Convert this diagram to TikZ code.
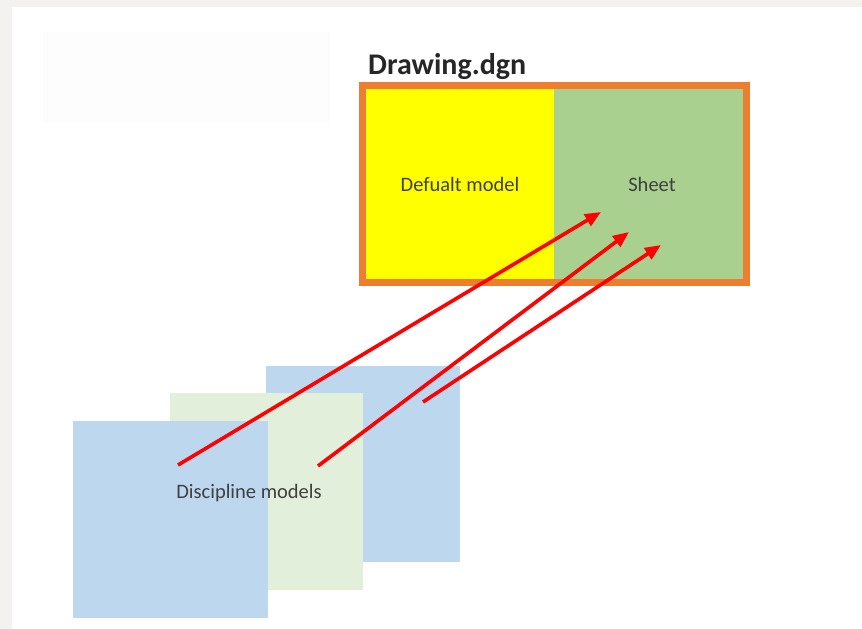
\documentclass[tikz,border=0pt]{standalone}
\usepackage{fontspec}
\setmainfont{Carlito}
\usetikzlibrary{arrows.meta}
\definecolor{pagegray}{HTML}{F3F2F1}
\definecolor{faint}{HTML}{FDFDFD}
\definecolor{frameorange}{HTML}{ED7D31}
\definecolor{pureyellow}{HTML}{FFFF00}
\definecolor{sheetgreen}{HTML}{A9D08E}
\definecolor{modelblue}{HTML}{BDD7EE}
\definecolor{modelgreen}{HTML}{E2EFDA}
\definecolor{textgray}{HTML}{404040}
\definecolor{purered}{HTML}{FF0000}
\tikzset{
  panel/.style={draw=none, inner sep=0pt, outer sep=0pt, anchor=north west},
  label/.style={font=\fontsize{20.5}{23}\selectfont, text=textgray, inner sep=0pt},
  refarrow/.style={draw=purered, line width=3.6pt, -{Triangle[length=16pt,width=13pt]}}
}
\begin{document}
\begin{tikzpicture}[x=1pt,y=-1pt]
\useasboundingbox (0,0) rectangle (862,629);
\fill[pagegray] (0,0) rectangle (862,629);
\fill[white] (12,7) rectangle (862,629);
\fill[faint] (43,32) rectangle (330,123);
% Drawing.dgn frame
\node[anchor=base west, inner sep=0pt, font=\bfseries\fontsize{30}{34}\selectfont, text=black!85] (title) at (368,74) {Drawing.dgn};
\node[panel, fill=pureyellow, minimum width=188pt, minimum height=190pt] (default) at (366,89) {};
\node[panel, fill=sheetgreen, minimum width=189pt, minimum height=190pt] (sheet) at (554,89) {};
\draw[frameorange, line width=7pt] (362.5,85.5) rectangle (746.5,282.5);
\node[label] (deftext) at (460,184) {Defualt model};
\node[label] (sheettext) at (652,184) {Sheet};
% discipline models
\node[panel, fill=modelblue, minimum width=194pt, minimum height=196pt] (back) at (266,366) {};
\node[panel, fill=modelgreen, minimum width=193pt, minimum height=197pt] (mid) at (170,393) {};
\node[panel, fill=modelblue, minimum width=195pt, minimum height=197pt] (front) at (73,421) {};
\node[label] (disc) at (249,493) {Discipline models};
% arrow endpoints
\coordinate (s1) at (178,465);
\coordinate (e1) at (601,212);
\coordinate (s2) at (318,466);
\coordinate (e2) at (629,232);
\coordinate (s3) at (423,402);
\coordinate (e3) at (661,245);
\draw[refarrow] (s1) -- (e1);
\draw[refarrow] (s2) -- (e2);
\draw[refarrow] (s3) -- (e3);
\end{tikzpicture}
\end{document}
